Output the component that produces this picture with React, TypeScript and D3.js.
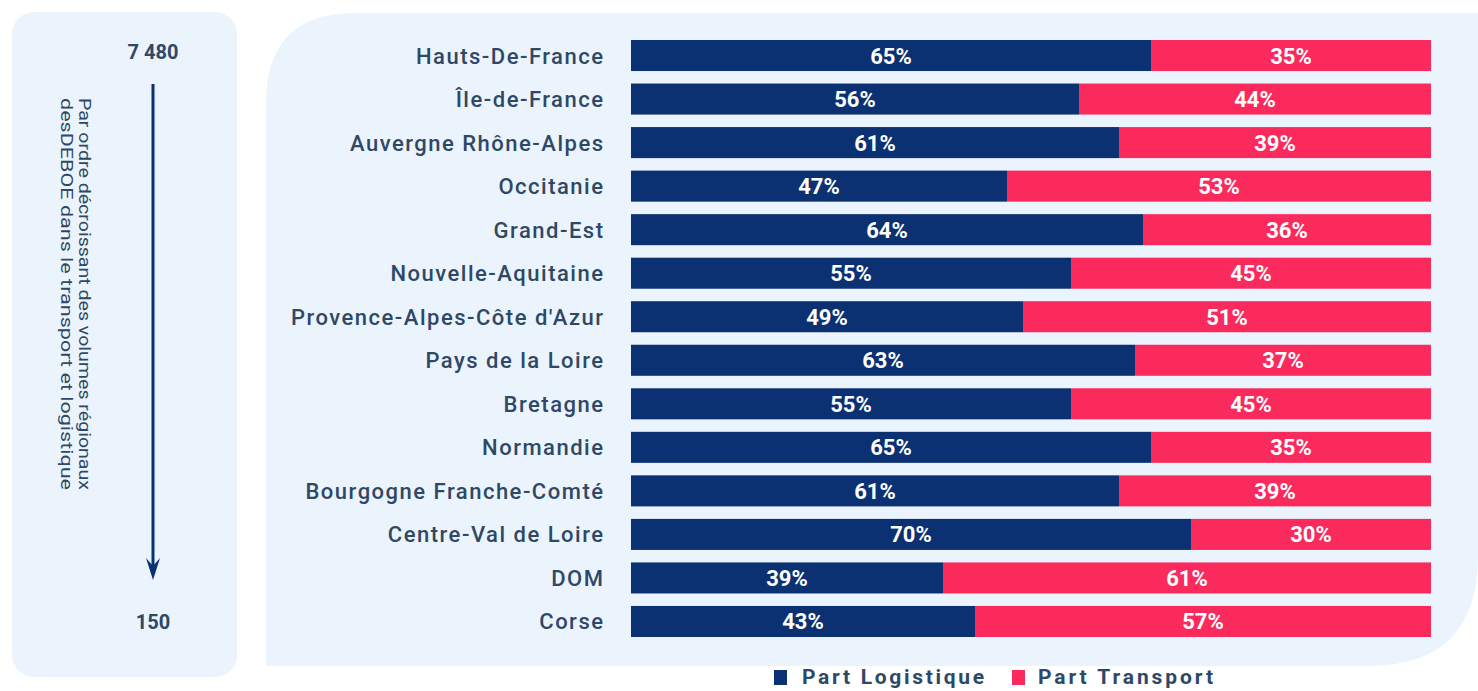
import React from "react";
import * as d3 from "d3";

const regions = [
  "Hauts-De-France",
  "Île-de-France",
  "Auvergne Rhône-Alpes",
  "Occitanie",
  "Grand-Est",
  "Nouvelle-Aquitaine",
  "Provence-Alpes-Côte d'Azur",
  "Pays de la Loire",
  "Bretagne",
  "Normandie",
  "Bourgogne Franche-Comté",
  "Centre-Val de Loire",
  "DOM",
  "Corse",
];
const partLogistique = [65, 56, 61, 47, 64, 55, 49, 63, 55, 65, 61, 70, 39, 43];
const partTransport = [35, 44, 39, 53, 36, 45, 51, 37, 45, 35, 39, 30, 61, 57];
const seriesNames = ["Part Logistique", "Part Transport"];
const topValue = "7 480";
const bottomValue = "150";
const sideLines = [
  "Par ordre décroissant des volumes régionaux",
  "desDEBOE dans le transport et logistique",
];

const W = 1478;
const H = 691;
const BLUE = "#0c3172";
const PINK = "#fb2a5d";
const TEXT = "#2e4866";
const PANEL = "#ebf4fc";

export default function App() {
  const y = d3
    .scaleBand<string>()
    .domain(regions)
    .range([40, 637])
    .paddingInner(0.287)
    .paddingOuter(0);
  const x = d3.scaleLinear().domain([0, 100]).range([631, 1431]);
  const bh = y.bandwidth();

  const rightPanel = (() => {
    const p = d3.path();
    const l = 266, t = 13, r = W, b = 666, rTL = 90, rBR = 110;
    p.moveTo(l, b);
    p.lineTo(l, t + rTL);
    p.quadraticCurveTo(l, t, l + rTL, t);
    p.lineTo(r, t);
    p.lineTo(r, b - rBR);
    p.quadraticCurveTo(r, b, r - rBR, b);
    p.closePath();
    return p.toString();
  })();

  const font = "Roboto, 'Liberation Sans', Arial, sans-serif";

  return (
    <svg
      width={W}
      height={H}
      viewBox={`0 0 ${W} ${H}`}
      style={{ position: "absolute", left: 0, top: 0, display: "block", background: "#ffffff" }}
    >
      {/* left panel */}
      <rect x={12} y={12} width={225} height={665} rx={22} ry={22} fill={PANEL} />
      <text x={153} y={59} textAnchor="middle" fontFamily={font} fontWeight="bold" fontSize={20} fill={TEXT}>
        {topValue}
      </text>
      <line x1={153} y1={84} x2={153} y2={572} stroke={BLUE} strokeWidth={3} />
      <path d="M146,558 L153,580 L160,558 L153,566 Z" fill={BLUE} />
      <text x={153} y={629} textAnchor="middle" fontFamily={font} fontWeight="bold" fontSize={20} fill={TEXT}>
        {bottomValue}
      </text>
      {sideLines.map((s, i) => (
        <text
          key={s}
          transform={`translate(${79 - i * 18},98) rotate(90)`}
          fontFamily={font}
          fontSize={17}
          fill={TEXT}
          textLength={392}
          lengthAdjust="spacingAndGlyphs"
        >
          {s}
        </text>
      ))}

      {/* right panel */}
      <path d={rightPanel} fill={PANEL} />

      {regions.map((r, i) => {
        const yy = y(r)!;
        const a = partLogistique[i];
        const b = partTransport[i];
        const ty = yy + bh / 2 + 8;
        return (
          <g key={r}>
            <text x={604.5} y={ty} textAnchor="end" fontFamily={font} fontWeight={500} fontSize={22} letterSpacing={1.5} fill={TEXT}>
              {r}
            </text>
            <rect x={x(0)} y={yy} width={x(a) - x(0)} height={bh} fill={BLUE} />
            <rect x={x(a)} y={yy} width={x(a + b) - x(a)} height={bh} fill={PINK} />
            <text x={(x(0) + x(a)) / 2} y={ty} textAnchor="middle" fontFamily={font} fontWeight="bold" fontSize={22} fill="#ffffff">
              {a}%
            </text>
            <text x={(x(a) + x(a + b)) / 2} y={ty} textAnchor="middle" fontFamily={font} fontWeight="bold" fontSize={22} fill="#ffffff">
              {b}%
            </text>
          </g>
        );
      })}

      {/* legend */}
      <rect x={774} y={670} width={13} height={15} fill={BLUE} />
      <text x={802} y={684} fontFamily={font} fontWeight="bold" fontSize={21} fill={TEXT} textLength={182} lengthAdjust="spacing">
        {seriesNames[0]}
      </text>
      <rect x={1012} y={670} width={13} height={15} fill={PINK} />
      <text x={1038} y={684} fontFamily={font} fontWeight="bold" fontSize={21} fill={TEXT} textLength={175} lengthAdjust="spacing">
        {seriesNames[1]}
      </text>
    </svg>
  );
}
